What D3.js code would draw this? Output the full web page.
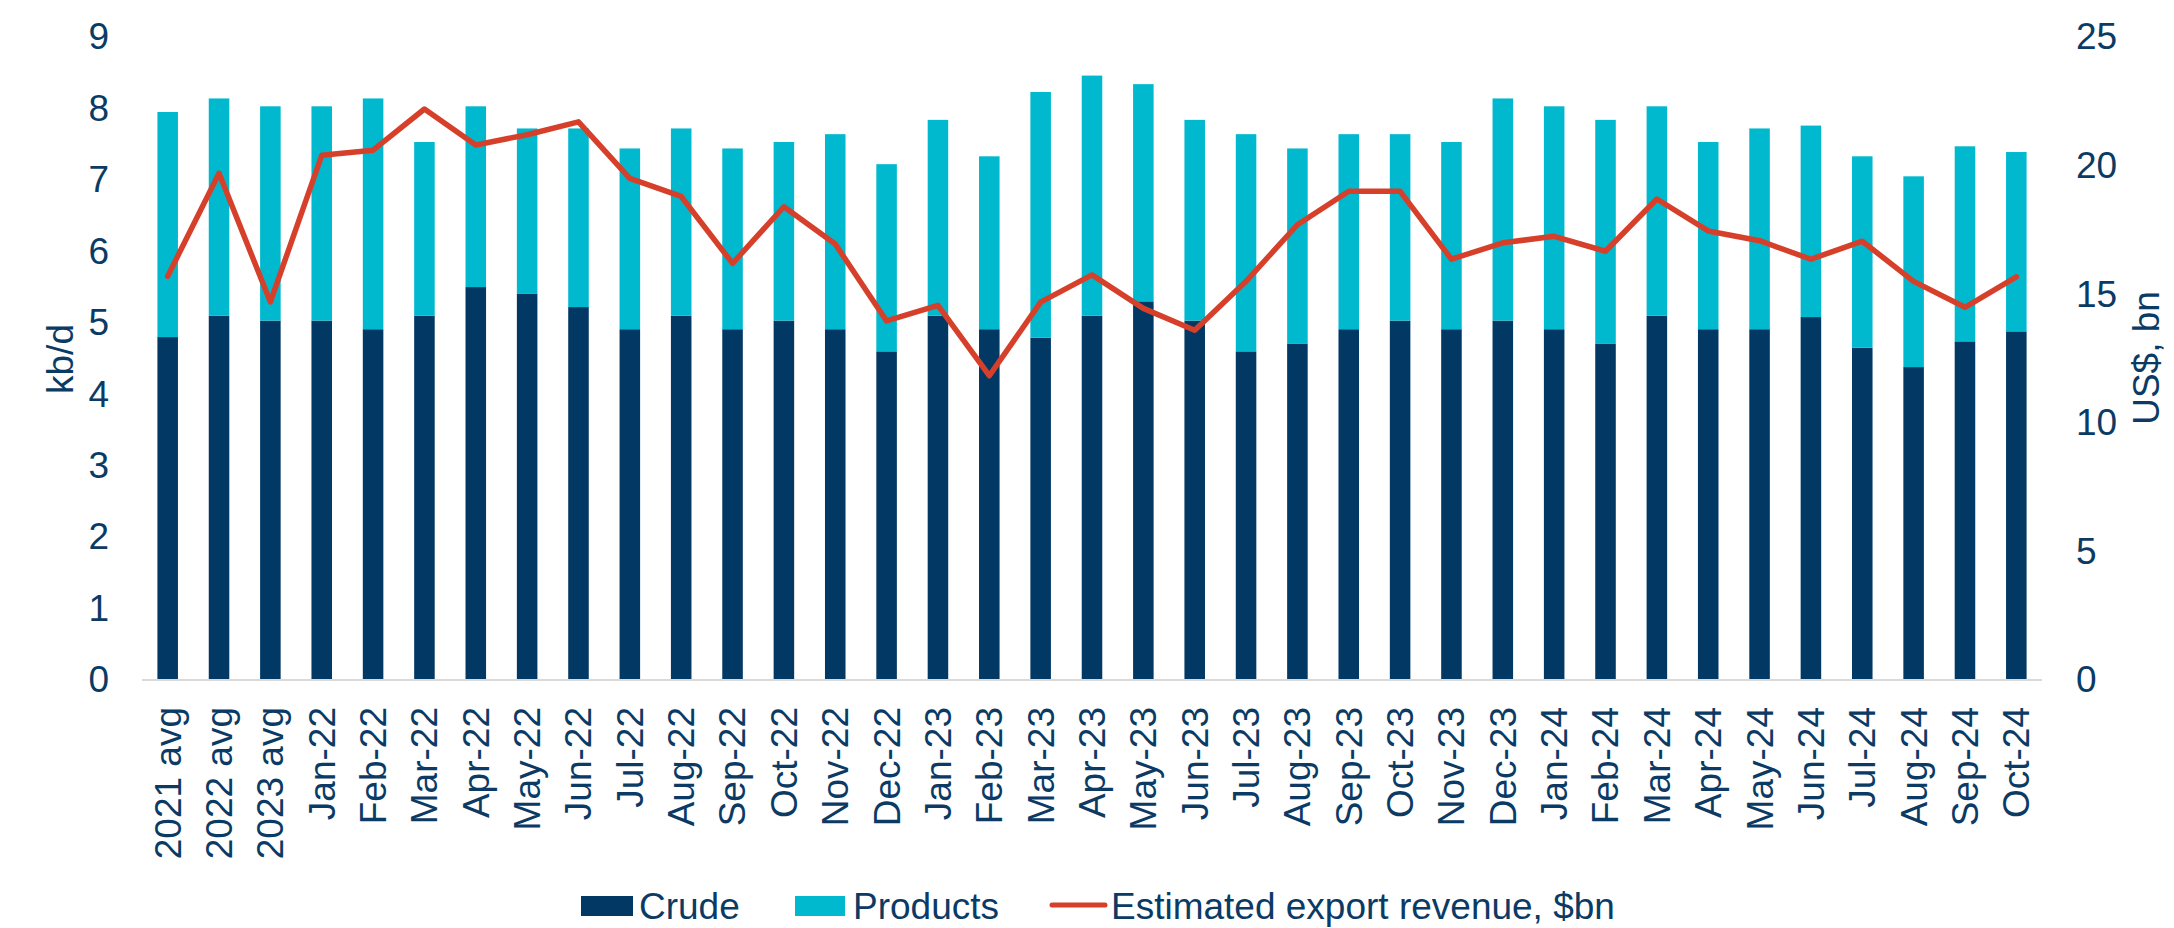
<!DOCTYPE html>
<html>
<head>
<meta charset="utf-8">
<script src="https://cdn.jsdelivr.net/npm/d3@7"></script>
<style>
  body { margin: 0; background: #fff; }
  svg { display: block; font-family: "Liberation Sans", Arial, sans-serif; }
</style>
</head>
<body>
<div id="chart"></div>
<script>
// Datos
const categories = ['2021 avg', '2022 avg', '2023 avg',
  'Jan-22', 'Feb-22', 'Mar-22', 'Apr-22', 'May-22', 'Jun-22', 'Jul-22', 'Aug-22', 'Sep-22', 'Oct-22', 'Nov-22', 'Dec-22',
  'Jan-23', 'Feb-23', 'Mar-23', 'Apr-23', 'May-23', 'Jun-23', 'Jul-23', 'Aug-23', 'Sep-23', 'Oct-23', 'Nov-23', 'Dec-23',
  'Jan-24', 'Feb-24', 'Mar-24', 'Apr-24', 'May-24', 'Jun-24', 'Jul-24', 'Aug-24', 'Sep-24', 'Oct-24'];

const crude = [4.80, 5.10, 5.03, 5.03, 4.91, 5.10, 5.50, 5.41, 5.22, 4.91, 5.10, 4.91, 5.03, 4.91, 4.60,
  5.10, 4.91, 4.79, 5.10, 5.30, 5.03, 4.60, 4.71, 4.91, 5.03, 4.91, 5.03,
  4.91, 4.71, 5.10, 4.91, 4.91, 5.08, 4.65, 4.38, 4.74, 4.88];

const products = [3.15, 3.04, 3.00, 3.00, 3.23, 2.43, 2.53, 2.31, 2.50, 2.53, 2.62, 2.53, 2.50, 2.73, 2.62,
  2.74, 2.42, 3.44, 3.36, 3.04, 2.81, 3.04, 2.73, 2.73, 2.61, 2.62, 3.11,
  3.12, 3.13, 2.93, 2.62, 2.81, 2.68, 2.68, 2.67, 2.73, 2.51];

const revenue = [15.7, 19.7, 14.7, 20.4, 20.6, 22.2, 20.8, 21.2, 21.7, 19.5, 18.8, 16.2, 18.4, 16.95, 13.96,
  14.57, 11.83, 14.69, 15.75, 14.45, 13.6, 15.5, 17.7, 19.0, 19.0, 16.36, 17.0,
  17.25, 16.67, 18.7, 17.46, 17.08, 16.36, 17.06, 15.5, 14.49, 15.67];

const leftTicks = [0, 1, 2, 3, 4, 5, 6, 7, 8, 9];
const rightTicks = [0, 5, 10, 15, 20, 25];

// Colores
const cCrude = '#023864';
const cProducts = '#00b9ce';
const cRevenue = '#d6402b';
const cText = '#0b3b65';

const width = 2174, height = 928;
const svg = d3.select('#chart').append('svg')
  .attr('width', width).attr('height', height);

const x = d3.scaleBand().domain(categories).range([142, 2042]).paddingInner(0.6).paddingOuter(0.3);
const yL = d3.scaleLinear().domain([0, 9]).range([680, 37]);
const yR = d3.scaleLinear().domain([0, 25]).range([680, 37]);

// Barras apiladas
const rows = categories.map((c, i) => ({ cat: c, crude: crude[i], products: products[i] }));
const stacked = d3.stack().keys(['crude', 'products'])(rows);
const colors = { crude: cCrude, products: cProducts };

svg.append('g').selectAll('g')
  .data(stacked)
  .join('g')
  .attr('fill', d => colors[d.key])
  .selectAll('rect')
  .data(d => d)
  .join('rect')
  .attr('x', d => x(d.data.cat))
  .attr('width', x.bandwidth())
  .attr('y', d => yL(d[1]))
  .attr('height', d => yL(d[0]) - yL(d[1]));

// Línea base
svg.append('line')
  .attr('x1', x.range()[0]).attr('x2', x.range()[1])
  .attr('y1', yL(0)).attr('y2', yL(0))
  .attr('stroke', '#d9d9d9').attr('stroke-width', 2);

// Línea de ingresos
const line = d3.line()
  .x((d, i) => x(categories[i]) + x.bandwidth() / 2)
  .y(d => yR(d));

svg.append('path')
  .datum(revenue)
  .attr('d', line)
  .attr('fill', 'none')
  .attr('stroke', cRevenue)
  .attr('stroke-width', 5.5)
  .attr('stroke-linejoin', 'round')
  .attr('stroke-linecap', 'round');

// Ejes
const axL = svg.append('g').attr('transform', 'translate(142,0)')
  .call(d3.axisLeft(yL).tickValues(leftTicks).tickSize(0).tickPadding(33));
const axR = svg.append('g').attr('transform', 'translate(2042,0)')
  .call(d3.axisRight(yR).tickValues(rightTicks).tickSize(0).tickPadding(34));
const axX = svg.append('g').attr('transform', 'translate(0,680)')
  .call(d3.axisBottom(x).tickSize(0));

[axL, axR, axX].forEach(g => {
  g.select('.domain').remove();
  g.selectAll('text').attr('fill', cText).style('font-size', '37px')
    .style('font-family', '"Liberation Sans", Arial, sans-serif');
});

axX.selectAll('text')
  .attr('x', -27).attr('y', 0).attr('dy', '0.35em')
  .attr('transform', 'rotate(-90)')
  .style('text-anchor', 'end');

// Títulos de ejes
svg.append('text')
  .attr('transform', 'translate(73,359) rotate(-90)')
  .attr('text-anchor', 'middle')
  .attr('fill', cText).style('font-size', '37px')
  .text('kb/d');

svg.append('text')
  .attr('transform', 'translate(2159,358) rotate(-90)')
  .attr('text-anchor', 'middle')
  .attr('fill', cText).style('font-size', '37px')
  .text('US$, bn');

// Leyenda (subida un poco para que no se corte el texto)
const legend = svg.append('g');
legend.append('rect').attr('x', 581).attr('y', 896).attr('width', 52).attr('height', 20).attr('fill', cCrude);
legend.append('text').attr('x', 639).attr('y', 919).attr('fill', cText).style('font-size', '37px').text('Crude');
legend.append('rect').attr('x', 795).attr('y', 896).attr('width', 50).attr('height', 20).attr('fill', cProducts);
legend.append('text').attr('x', 853).attr('y', 919).attr('fill', cText).style('font-size', '37px').text('Products');
legend.append('line').attr('x1', 1052).attr('x2', 1105).attr('y1', 905).attr('y2', 905)
  .attr('stroke', cRevenue).attr('stroke-width', 5).attr('stroke-linecap', 'round');
legend.append('text').attr('x', 1111).attr('y', 919).attr('fill', cText).style('font-size', '37px')
  .text('Estimated export revenue, $bn');
</script>
</body>
</html>
